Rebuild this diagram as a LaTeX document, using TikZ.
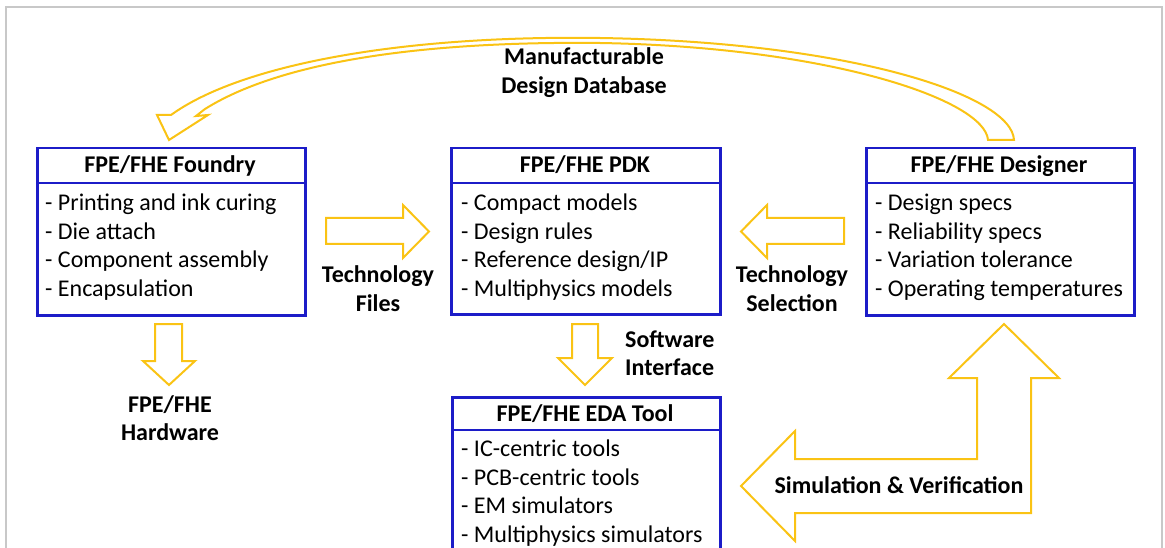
\documentclass[tikz,border=0pt]{standalone}
\usepackage{fontspec}
\setmainfont{Carlito}
\definecolor{boxblue}{RGB}{28,28,200}
\definecolor{gold}{RGB}{250,195,20}
\definecolor{framegray}{RGB}{200,200,200}
\begin{document}
\begin{tikzpicture}[x=1pt,y=-1pt,
  box/.style={draw=boxblue, line width=2.5pt, anchor=north west, inner sep=0pt},
  sep/.style={draw=boxblue, line width=2.5pt},
  item/.style={anchor=base west, inner sep=0pt, font=\fontsize{24}{29}\selectfont},
  title/.style={anchor=base, inner sep=0pt, font=\fontsize{24}{29}\selectfont\bfseries},
  blk/.style={draw=gold, line width=2pt, fill=white, line join=miter}]
\useasboundingbox (0,0) rectangle (1165,548);
\clip (0,0) rectangle (1165,548);
% frame
\draw[framegray, line width=1.5pt] (6,560) -- (6,7) -- (1162,7) -- (1162,560);

% boxes
\node[box, minimum width=268pt, minimum height=167pt] (foundry) at (36,147) {};
\node[box, minimum width=269pt, minimum height=166pt] (pdk) at (450,147) {};
\node[box, minimum width=268pt, minimum height=167pt] (designer) at (865,147) {};
\node[box, minimum width=268pt, minimum height=200pt] (eda) at (451,396) {};
\foreach \b in {foundry,pdk,designer}
  \draw[sep] ([yshift=-36pt]\b.north west) -- ([yshift=-36pt]\b.north east);
\draw[sep] ([yshift=-34pt]eda.north west) -- ([yshift=-34pt]eda.north east);

% titles
\node[title] (tf) at (170,173) {FPE/FHE Foundry};
\node[title] (tp) at (585,173) {FPE/FHE PDK};
\node[title] (td) at (999,173) {FPE/FHE Designer};
\node[title] (te) at (585,421) {FPE/FHE EDA Tool};

% items
\node[item] (f1) at (45,211) {- Printing and ink curing};
\node[item] (f2) at (45,240) {- Die attach};
\node[item] (f3) at (45,268) {- Component assembly};
\node[item] (f4) at (45,297) {- Encapsulation};
\node[item] (p1) at (461,211) {- Compact models};
\node[item] (p2) at (461,240) {- Design rules};
\node[item] (p3) at (461,268) {- Reference design/IP};
\node[item] (p4) at (461,297) {- Multiphysics models};
\node[item] (d1) at (875,211) {- Design specs};
\node[item] (d2) at (875,240) {- Reliability specs};
\node[item] (d3) at (875,268) {- Variation tolerance};
\node[item] (d4) at (875,297) {- Operating temperatures};
\node[item] (e1) at (461,456) {- IC-centric tools};
\node[item] (e2) at (461,485) {- PCB-centric tools};
\node[item] (e3) at (461,513) {- EM simulators};
\node[item] (e4) at (461,542) {- Multiphysics simulators};

% block arrows
\draw[blk] (326,218) -- (403,218) -- (403,205) -- (429,231.5) -- (403,258) -- (403,244) -- (326,244) -- cycle;
\draw[blk] (844,218) -- (767,218) -- (767,205) -- (741,231.5) -- (767,258) -- (767,244) -- (844,244) -- cycle;
\draw[blk] (572,324) -- (598,324) -- (598,358) -- (612,358) -- (585,385) -- (558,358) -- (572,358) -- cycle;
\draw[blk] (155,324) -- (182,324) -- (182,361) -- (195,361) -- (169,385) -- (143,361) -- (155,361) -- cycle;
\draw[blk] (741,486) -- (795,431) -- (795,459) -- (977,459) -- (977,378) -- (949,378) -- (1004,324)
  -- (1059,378) -- (1031,378) -- (1031,513) -- (795,513) -- (795,541) -- cycle;
% curved arrow
\draw[blk] (1014,140) .. controls (1012,95) and (850,42) .. (600,38)
  .. controls (400,35) and (240,65) .. (171,115)
  -- (157,115) -- (169,140) -- (208,115) -- (196,116) -- (205,109)
  .. controls (280,62) and (420,41) .. (600,43)
  .. controls (830,47) and (985,100) .. (988,140) -- cycle;

% labels
\node[title] (m1) at (584,65) {Manufacturable};
\node[title] (m2) at (584,94) {Design Database};
\node[title] (tf1) at (378,283) {Technology};
\node[title] (tf2) at (378,312) {Files};
\node[title] (ts1) at (792,283) {Technology};
\node[title] (ts2) at (792,312) {Selection};
\node[title, anchor=base west] (si1) at (625,347) {Software};
\node[title, anchor=base west] (si2) at (625,375) {Interface};
\node[title] (h1) at (170,412) {FPE/FHE};
\node[title] (h2) at (170,440) {Hardware};
\node[title] (sv) at (899,493) {Simulation \& Verification};
\end{tikzpicture}
\end{document}
